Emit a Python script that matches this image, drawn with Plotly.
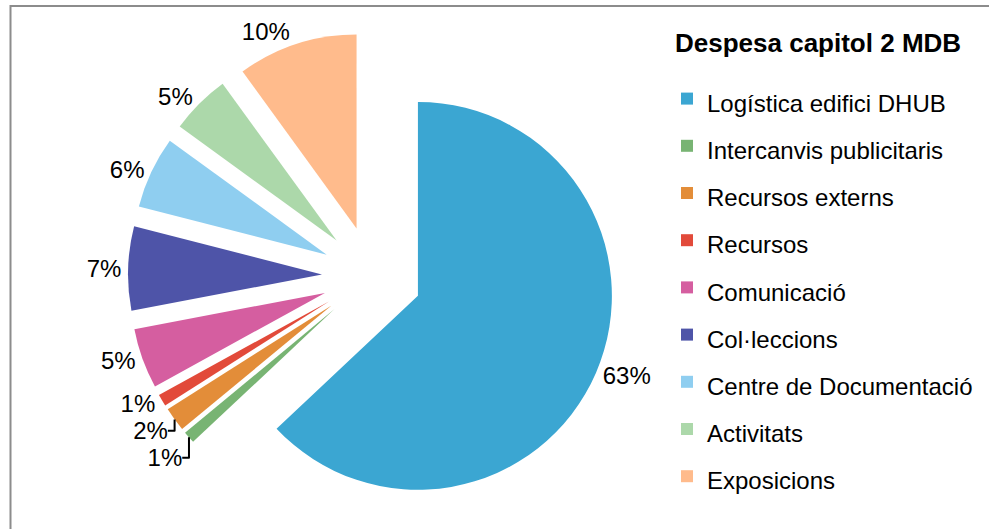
import plotly.graph_objects as go

categories = ["Logística edifici DHUB", "Intercanvis publicitaris", "Recursos externs",
              "Recursos", "Comunicació", "Col·leccions", "Centre de Documentació",
              "Activitats", "Exposicions"]
values = [63, 1, 2, 1, 5, 7, 6, 5, 10]
colors = ["#3BA6D2", "#78B473", "#E38D39", "#E24A3A", "#D55EA0",
          "#4E54A8", "#8FCEF0", "#ACD8AA", "#FFBB8C"]

FONT = "Liberation Sans, Arial, sans-serif"
W, H = 989, 529

legend_labels = ['<span style="font-size:24px">%s</span>' % c for c in categories]

cx, cy, R = 372, 276, 244
fig = go.Figure(go.Pie(
    labels=legend_labels,
    values=values,
    marker=dict(colors=colors, line=dict(width=0)),
    sort=False,
    direction="clockwise",
    rotation=0,
    pull=[0.258] * len(values),
    textinfo="percent",
    textposition="outside",
    texttemplate="%{percent:.0%}",
    outsidetextfont=dict(family=FONT, size=24, color="black"),
    domain=dict(x=[(cx - R) / W, (cx + R) / W],
                y=[1 - (cy + R) / H, 1 - (cy - R) / H]),
    showlegend=True,
))

fig.update_layout(
    width=W, height=H,
    margin=dict(l=0, r=0, t=0, b=0, autoexpand=False),
    paper_bgcolor="white",
    plot_bgcolor="white",
    font=dict(family=FONT, color="black"),
    title=dict(text="<b>Despesa capitol 2 MDB</b>", x=675 / W, xanchor="left",
               y=1 - 43 / H, yanchor="middle",
               font=dict(family=FONT, size=26, color="black")),
    legend=dict(x=667 / W, xanchor="left", y=1 - 70 / H, yanchor="top",
                font=dict(family=FONT, size=34, color="black"),
                bgcolor="rgba(0,0,0,0)"),
    shapes=[dict(type="rect", xref="paper", yref="paper",
                 x0=10.5 / W, x1=1.05, y0=-0.05, y1=1 - 6 / H,
                 line=dict(color="#8C8C8C", width=2), layer="below")],
)

fig.write_html("out.html",
               config={"displayModeBar": False},
               post_script="document.body.style.margin='0';")
